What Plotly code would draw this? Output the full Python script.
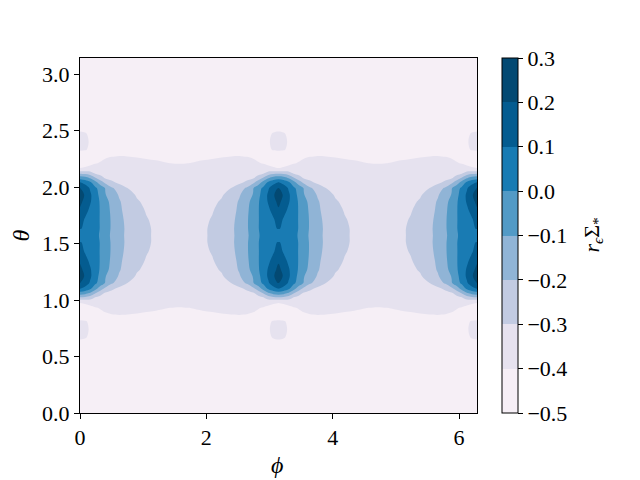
import numpy as np
import plotly.graph_objects as go

# ---- data (one quarter period, mirrored by symmetry) ----
phi_quarter = [0.0, 0.08, 0.16, 0.24, 0.32, 0.40, 0.50, 0.62, 0.75, 0.90, 1.05, 1.20, 1.38, 1.5708]
theta_half = [0.0, 0.371, 0.571, 0.671, 0.741, 0.811, 0.871, 0.931, 0.981, 1.021,
              1.061, 1.101, 1.151, 1.211, 1.271, 1.351, 1.431, 1.511, 1.5708]
z_quarter = [
    [-0.48, -0.48, -0.48, -0.48, -0.48, -0.48, -0.48, -0.48, -0.48, -0.48, -0.48, -0.48, -0.48, -0.48],
    [-0.46, -0.46, -0.465, -0.47, -0.47, -0.47, -0.47, -0.47, -0.47, -0.47, -0.47, -0.47, -0.47, -0.47],
    [-0.44, -0.44, -0.445, -0.45, -0.455, -0.46, -0.465, -0.465, -0.465, -0.465, -0.47, -0.47, -0.47, -0.47],
    [-0.39, -0.395, -0.41, -0.43, -0.445, -0.455, -0.46, -0.46, -0.46, -0.46, -0.465, -0.465, -0.465, -0.465],
    [-0.38, -0.388, -0.405, -0.425, -0.44, -0.45, -0.455, -0.455, -0.455, -0.455, -0.46, -0.46, -0.46, -0.46],
    [-0.39, -0.395, -0.41, -0.425, -0.435, -0.44, -0.44, -0.435, -0.435, -0.44, -0.445, -0.45, -0.45, -0.45],
    [-0.45, -0.45, -0.44, -0.43, -0.42, -0.41, -0.402, -0.398, -0.40, -0.405, -0.415, -0.42, -0.425, -0.43],
    [-0.43, -0.43, -0.42, -0.405, -0.395, -0.38, -0.37, -0.365, -0.365, -0.37, -0.375, -0.385, -0.398, -0.405],
    [-0.395, -0.385, -0.37, -0.36, -0.355, -0.35, -0.35, -0.35, -0.35, -0.35, -0.35, -0.355, -0.36, -0.36],
    [-0.215, -0.225, -0.25, -0.31, -0.33, -0.34, -0.345, -0.35, -0.35, -0.35, -0.35, -0.355, -0.355, -0.355],
    [-0.04, -0.06, -0.11, -0.19, -0.26, -0.31, -0.33, -0.34, -0.345, -0.35, -0.35, -0.355, -0.355, -0.355],
    [0.105, 0.07, 0.02, -0.06, -0.15, -0.22, -0.28, -0.32, -0.335, -0.345, -0.35, -0.355, -0.355, -0.355],
    [0.205, 0.15, 0.09, 0.02, -0.04, -0.105, -0.185, -0.245, -0.30, -0.33, -0.345, -0.35, -0.355, -0.355],
    [0.245, 0.19, 0.115, 0.05, -0.03, -0.095, -0.145, -0.21, -0.26, -0.31, -0.335, -0.345, -0.35, -0.355],
    [0.225, 0.17, 0.11, 0.05, -0.01, -0.07, -0.125, -0.19, -0.245, -0.29, -0.32, -0.335, -0.345, -0.35],
    [0.185, 0.13, 0.08, 0.04, -0.005, -0.06, -0.115, -0.18, -0.235, -0.275, -0.305, -0.32, -0.33, -0.335],
    [0.14, 0.09, 0.07, 0.035, -0.005, -0.055, -0.11, -0.17, -0.225, -0.265, -0.295, -0.315, -0.325, -0.33],
    [0.102, 0.095, 0.075, 0.04, -0.005, -0.055, -0.11, -0.165, -0.22, -0.26, -0.29, -0.31, -0.322, -0.327],
    [0.06, 0.058, 0.05, 0.03, -0.01, -0.06, -0.115, -0.17, -0.22, -0.26, -0.29, -0.31, -0.325, -0.33],
]
levels = [-0.5, -0.4, -0.3, -0.2, -0.1, 0.0, 0.1, 0.2, 0.3]
band_colors = ['#f6eff6', '#dedcec', '#bbc7e0', '#8db3d5', '#559cc7', '#1d80b8', '#05659e', '#034972']
x_ticks = [0, 2, 4, 6]
y_ticks = [0.0, 0.5, 1.0, 1.5, 2.0, 2.5, 3.0]

# ---- assemble the full grid by the symmetry of the field ----
pq = np.array(phi_quarter)
zq = np.array(z_quarter)
phi_h = np.concatenate([pq, np.pi - pq[-2::-1]])
z_h = np.concatenate([zq, zq[:, -2::-1]], axis=1)
phi = np.concatenate([phi_h, np.pi + phi_h[1:]])
z_f = np.concatenate([z_h, z_h[:, 1:]], axis=1)
th = np.array(theta_half)
theta = np.concatenate([th, np.pi - th[-2::-1]])
z = np.concatenate([z_f, z_f[-2::-1, :]], axis=0)

# plotly maps fill colours over [start - size/2, end + size/2]
nb = len(band_colors)
cs = [[0.0, band_colors[0]]]
for k in range(nb):
    cs.append([(k + 1) / (nb + 1), band_colors[k]])
cs.append([1.0, band_colors[-1]])

FONT = "Liberation Serif"
fs = 22

def fmt(v):
    s = f"{v:.1f}"
    return s.replace("-", "\u2212")

fig = go.Figure()
fig.add_trace(go.Contour(
    x=phi, y=theta, z=z,
    autocontour=False,
    contours=dict(start=levels[0], end=levels[-1], size=0.1, coloring='fill', showlines=False),
    line=dict(width=0),
    colorscale=cs,
    zmin=levels[0], zmax=levels[-1],
    colorbar=dict(
        x=(502 - 80) / 397, xanchor='left', xpad=0, ypad=0,
        y=0.5, yanchor='middle', len=1, lenmode='fraction',
        thickness=16, outlinewidth=1, outlinecolor='black',
        tickvals=levels, ticktext=[fmt(v) for v in levels],
        ticks='outside', ticklen=5, tickwidth=1, tickcolor='black',
        tickfont=dict(family=FONT, size=fs, color='black'),
    ),
    hoverinfo='skip',
))

axis_common = dict(showline=True, mirror=True, linecolor='black', linewidth=1,
                   ticks='outside', ticklen=5, tickwidth=1, tickcolor='black',
                   showgrid=False, zeroline=False,
                   tickfont=dict(family=FONT, size=fs, color='black'))
fig.update_xaxes(range=[0, 2 * np.pi], tickvals=x_ticks, ticktext=[str(v) for v in x_ticks], **axis_common)
fig.update_yaxes(range=[0, np.pi], tickvals=y_ticks, ticktext=[fmt(v) for v in y_ticks], **axis_common)

fig.update_layout(
    width=640, height=480,
    margin=dict(l=80, r=163, t=58, b=67),
    paper_bgcolor='white', plot_bgcolor='white',
    showlegend=False,
    annotations=[
        dict(text='<i>\u03d5</i>', x=(277 - 80) / 397, y=(413 - 465) / 355, xref='paper', yref='paper',
             xanchor='center', yanchor='middle',
             showarrow=False, font=dict(family=FONT, size=fs + 2, color='black')),
        dict(text='<i>θ</i>', x=(20 - 80) / 397, y=0.5, xref='paper', yref='paper',
             xanchor='center', yanchor='middle',
             showarrow=False, textangle=-90, font=dict(family=FONT, size=fs + 2, color='black')),
        dict(text='<i>r</i><sub><i>ϵ</i></sub>Σ<sub>*</sub>', x=(592 - 80) / 397, y=0.5,
             xref='paper', yref='paper', xanchor='center', yanchor='middle',
             showarrow=False, textangle=-90,
             font=dict(family=FONT, size=fs, color='black')),
    ],
)

fig.write_html("out.html")
